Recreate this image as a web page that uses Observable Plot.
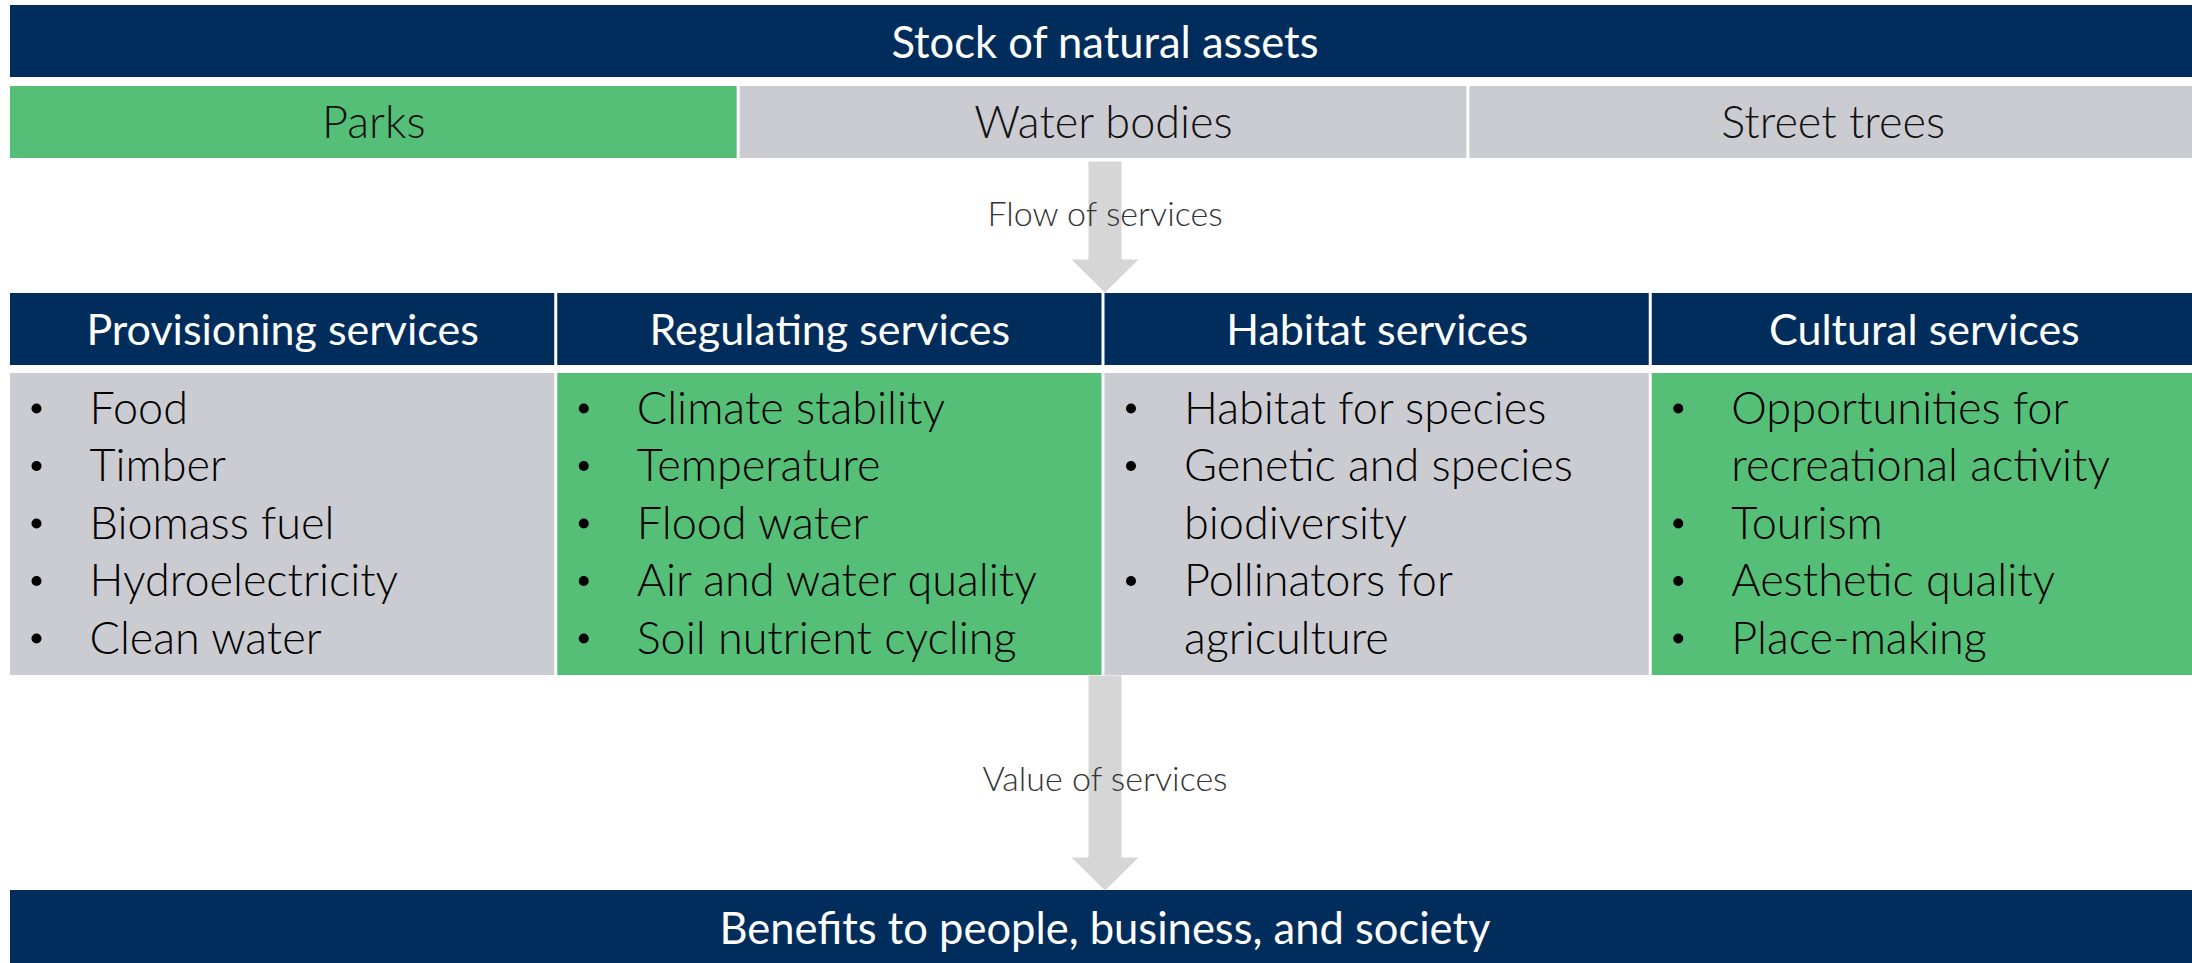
<!DOCTYPE html>
<html><head><meta charset="utf-8">
<script src="https://cdn.jsdelivr.net/npm/d3@7"></script>
<script src="https://cdn.jsdelivr.net/npm/@observablehq/plot@0.6"></script>
<style>
html,body{margin:0;padding:0;background:#fff;overflow:hidden;}
#chart svg{display:block;}
</style></head><body><div id="chart"></div>
<script>
// ---- content ----
const stockTitle = "Stock of natural assets";
const assets = ["Parks", "Water bodies", "Street trees"];
const assetHighlighted = [true, false, false];
const flowLabel = "Flow of services";
const services = ["Provisioning services", "Regulating services", "Habitat services", "Cultural services"];
const serviceHighlighted = [false, true, false, true];
const provisioningItems = [["Food"], ["Timber"], ["Biomass fuel"], ["Hydroelectricity"], ["Clean water"]];
const regulatingItems = [["Climate stability"], ["Temperature"], ["Flood water"], ["Air and water quality"], ["Soil nutrient cycling"]];
const habitatItems = [["Habitat for species"], ["Genetic and species", "biodiversity"], ["Pollinators for", "agriculture"]];
const culturalItems = [["Opportunities for", "recreational activity"], ["Tourism"], ["Aesthetic quality"], ["Place-making"]];
const valueLabel = "Value of services";
const benefitsTitle = "Benefits to people, business, and society";

// ---- style / layout ----
const W = 2192, H = 963;
const NAVY = "#012D5C", GREEN = "#55BF77", GREY = "#CBCCD1", ARROW = "#D6D6D6";
const XR = [10, 2199];
const unit = (XR[1] - XR[0]) / 12;
const px = p => p / unit;
const GAP = 3;
const BODY = 45, HEAD = 43, BAND = 43.5, SMALL = 34;

const bands = [
  {label: stockTitle, y1: 5, y2: 77, ty: 57},
  {label: benefitsTitle, y1: 890, y2: 963, ty: 943}
];
const assetRects = assets.map((a, i) => ({label: a, x1: 4 * i, x2: 4 * i + 4, fill: assetHighlighted[i] ? GREEN : GREY}));
const headerRects = services.map((s, j) => ({label: s, x1: 3 * j, x2: 3 * j + 3}));
const bodyRects = services.map((s, j) => ({x1: 3 * j, x2: 3 * j + 3, fill: serviceHighlighted[j] ? GREEN : GREY}));
const itemsByService = [provisioningItems, regulatingItems, habitatItems, culturalItems];
const LINE0 = 423, LINESTEP = 57.5;
const lines = [];
itemsByService.forEach((items, j) => {
  let k = 0;
  items.forEach(item => item.forEach((t, m) => {
    lines.push({x: 3 * j, y: LINE0 + k * LINESTEP, text: t, bullet: m === 0});
    k++;
  }));
});

function arrow(cx, top, headTop, tip) {
  const s = 16.5, h = 33.5;
  return [[cx - px(s), top], [cx + px(s), top], [cx + px(s), headTop], [cx + px(h), headTop],
          [cx, tip], [cx - px(h), headTop], [cx - px(s), headTop], [cx - px(s), top]]
    .map(([x, y]) => ({x, y}));
}
const arrow1 = arrow(6, 161, 259, 292);
const arrow2 = arrow(6, 675, 857, 890);

const chart = Plot.plot({
  width: W, height: H, margin: 0,
  style: {fontFamily: "Lato, 'Open Sans', sans-serif", background: "#fff", overflow: "hidden"},
  x: {type: "linear", domain: [0, 12], range: XR, axis: null},
  y: {type: "linear", domain: [0, H], range: [0, H], axis: null},
  marks: [
    // top and bottom bands
    Plot.rect(bands, {x1: 0, x2: 12, y1: "y1", y2: "y2", fill: NAVY}),
    Plot.text(bands, {x: 6, y: "ty", text: "label", fill: "#fff", fontSize: BAND, fontWeight: 400, lineAnchor: "bottom"}),
    // assets
    Plot.rect(assetRects, {x1: "x1", x2: "x2", y1: 86, y2: 158, fill: "fill", insetRight: GAP}),
    Plot.text(assetRects, {x: d => (d.x1 + d.x2) / 2, y: 137, dx: -GAP / 2, text: "label", fill: "#111", fontSize: BODY, fontWeight: 300, lineAnchor: "bottom"}),
    // arrows
    Plot.line(arrow1, {x: "x", y: "y", fill: ARROW, stroke: null}),
    Plot.line(arrow2, {x: "x", y: "y", fill: ARROW, stroke: null}),
    Plot.text([flowLabel], {x: 6, y: 225, text: d => d, fill: "#333", fontSize: SMALL, fontWeight: 300, lineAnchor: "bottom"}),
    Plot.text([valueLabel], {x: 6, y: 790, text: d => d, fill: "#333", fontSize: SMALL, fontWeight: 300, lineAnchor: "bottom"}),
    // service headers
    Plot.rect(headerRects, {x1: "x1", x2: "x2", y1: 293, y2: 365, fill: NAVY, insetRight: GAP}),
    Plot.text(headerRects, {x: d => (d.x1 + d.x2) / 2, y: 344, dx: -GAP / 2, text: "label", fill: "#fff", fontSize: HEAD, fontWeight: 400, lineAnchor: "bottom"}),
    // service bodies
    Plot.rect(bodyRects, {x1: "x1", x2: "x2", y1: 373, y2: 675, fill: "fill", insetRight: GAP}),
    Plot.dot(lines.filter(d => d.bullet), {x: "x", y: d => d.y - 15, dx: 26, r: 5, fill: "#000", stroke: null}),
    Plot.text(lines, {x: "x", y: "y", dx: 79, text: "text", textAnchor: "start", fill: "#000", fontSize: BODY, fontWeight: 300, lineAnchor: "bottom"})
  ]
});
document.getElementById("chart").append(chart);
</script></body></html>
